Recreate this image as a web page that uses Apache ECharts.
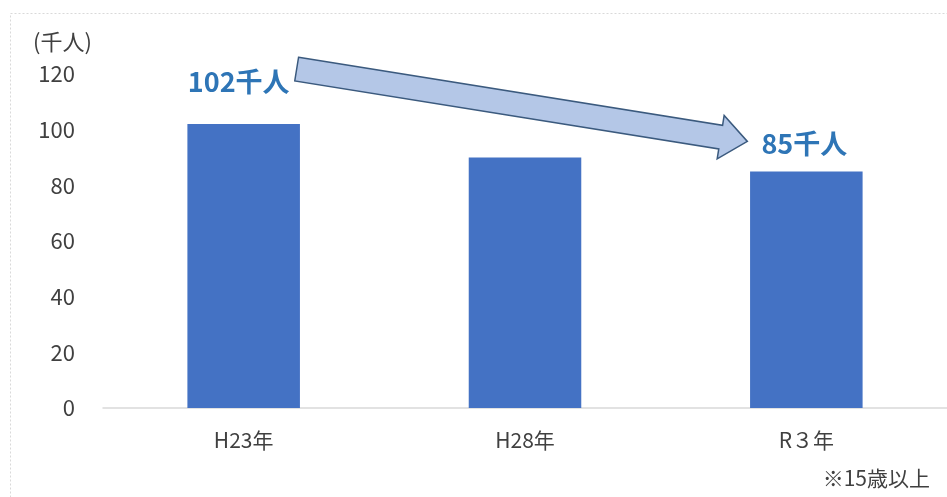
<!DOCTYPE html>
<html>
<head>
<meta charset="utf-8">
<script src="https://cdn.jsdelivr.net/npm/echarts@6/dist/echarts.min.js"></script>
<style>
  html, body { margin: 0; padding: 0; background: #ffffff; }
  #chart { width: 947px; height: 497px; }
</style>
</head>
<body>
<div id="chart"></div>
<script>
// Survey years and population (thousand people, age 15 and over)
const categories = ['H23年', 'H28年', 'R３年'];
const values = [102, 90, 85];
const yTicks = { min: 0, max: 120, interval: 20 };
const unitLabel = '(千人)';
const footnote = '※15歳以上';
const calloutSuffix = '千人';

const FONT = '"Noto Sans CJK JP", "Noto Sans", sans-serif';
const chart = echarts.init(document.getElementById('chart'));

const barData = values.map((v, i) => {
  const item = { value: v };
  if (i === 0) {
    item.label = { show: true, offset: [-5, -24] };
  } else if (i === values.length - 1) {
    item.label = { show: true, offset: [-2, -9] };
  }
  return item;
});

chart.setOption({
  animation: false,
  backgroundColor: '#ffffff',
  grid: { left: 103, right: 0, top: 74, bottom: 89 },
  xAxis: {
    type: 'category',
    data: categories,
    axisLine: { lineStyle: { color: '#d9d9d9', width: 1.5 } },
    axisTick: { show: false },
    axisLabel: { color: '#404040', fontSize: 21, fontFamily: FONT, margin: 22 }
  },
  yAxis: {
    type: 'value',
    min: yTicks.min,
    max: yTicks.max,
    interval: yTicks.interval,
    axisLine: { show: false },
    axisTick: { show: false },
    splitLine: { show: false },
    axisLabel: { color: '#404040', fontSize: 22, fontFamily: FONT, margin: 28, padding: [0, 0, 8, 0] }
  },
  series: [{
    type: 'bar',
    data: barData,
    barWidth: '40%',
    itemStyle: { color: '#4472c4' },
    label: {
      show: false,
      position: 'top',
      formatter: p => p.value + calloutSuffix,
      color: '#2e75b6',
      fontSize: 27,
      fontWeight: 'bold',
      fontFamily: FONT
    }
  }]
});

// Trend arrow between the two callouts, anchored to the chart's scale
const a = chart.convertToPixel({ seriesIndex: 0 }, [0, values[0]]);
const b = chart.convertToPixel({ seriesIndex: 0 }, [2, values[2]]);
const start = [a[0] + 53, a[1] - 55];
const tip = [b[0] - 59, b[1] - 30];
const dx = tip[0] - start[0], dy = tip[1] - start[1];
const len = Math.hypot(dx, dy);
const ux = dx / len, uy = dy / len;
const nx = -uy, ny = ux;
const half = 12, headHalf = 22, headLen = 27;
const base = [tip[0] - ux * headLen, tip[1] - uy * headLen];
const pt = (p, n) => [p[0] + nx * n, p[1] + ny * n];
const arrowPts = [
  pt(start, -half), pt(base, -half), pt(base, -headHalf), tip,
  pt(base, headHalf), pt(base, half), pt(start, half)
];

chart.setOption({
  graphic: [
    {
      type: 'rect',
      shape: { x: 10.5, y: 13.5, width: 960, height: 520 },
      style: { fill: null, stroke: '#d9d9d9', lineWidth: 1, lineDash: [2, 2] },
      silent: true
    },
    {
      type: 'polygon',
      shape: { points: arrowPts },
      style: { fill: '#b4c7e7', stroke: '#3b5a7e', lineWidth: 1.5 },
      silent: true
    },
    {
      type: 'text',
      left: 33, top: 31,
      style: { text: unitLabel, fill: '#404040', font: '22px ' + FONT }
    },
    {
      type: 'text',
      right: 17, top: 468,
      style: { text: footnote, fill: '#404040', font: '21px ' + FONT }
    }
  ]
});
</script>
</body>
</html>
